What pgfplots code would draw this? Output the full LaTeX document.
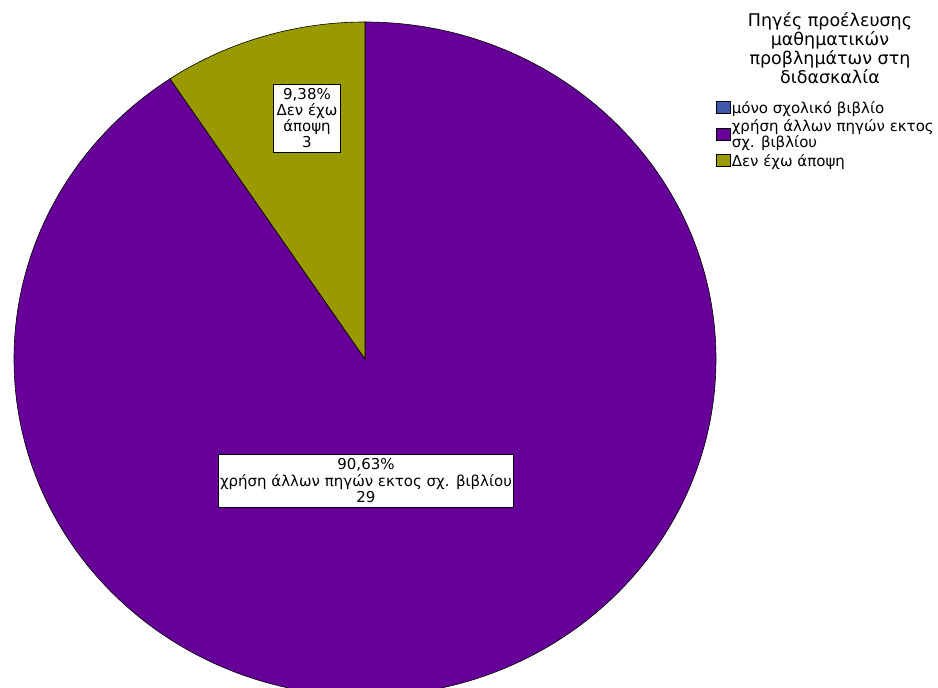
\documentclass[border=0pt]{standalone}
\usepackage{pgfplots}
\pgfplotsset{compat=1.18}
\usepackage{pgfplotstable}
\usepackage{fontspec}
\setmainfont{DejaVu Sans}
\definecolor{cblue}{RGB}{62,88,172}
\definecolor{cpurple}{RGB}{102,0,153}
\definecolor{colive}{RGB}{153,153,0}
\pgfplotstableread{
cat value
0 0
1 29
2 3
}\piedata
\begin{document}
\begin{tikzpicture}
\path[use as bounding box] (0,0) rectangle (938pt,688pt);
\clip (0,0) rectangle (938pt,688pt);
\pgfplotstablegetelem{0}{value}\of\piedata \let\va\pgfplotsretval
\pgfplotstablegetelem{1}{value}\of\piedata \let\vb\pgfplotsretval
\pgfplotstablegetelem{2}{value}\of\piedata \let\vc\pgfplotsretval
\pgfmathsetmacro{\tot}{\va+\vb+\vc}
\pgfmathsetmacro{\aA}{90}
\pgfmathsetmacro{\aB}{\aA-360*\va/\tot}
\pgfmathsetmacro{\aC}{\aB-360*\vb/\tot}
\pgfmathsetmacro{\aD}{\aC-360*\vc/\tot}
\begin{axis}[
  at={(0,0)}, anchor=south west,
  scale only axis, width=938pt, height=688pt,
  xmin=0, xmax=938, ymin=0, ymax=688,
  hide axis, clip=true,
  legend style={at={(axis cs:716,588)}, anchor=north west, draw=none, fill=none,
    font=\fontsize{15}{13.5}\selectfont, inner sep=0pt, row sep=3pt,
    nodes={inner sep=1pt}},
  legend cell align=left,
  legend image code/.code={\draw[#1, draw=black, line width=0.6pt] (0pt,-5.5pt) rectangle (14pt,6.5pt);},
]
\addlegendimage{fill=cblue}
\addlegendentry{μόνο σχολικό βιβλίο}
\addlegendimage{fill=cpurple}
\addlegendentry[align=left]{χρήση άλλων πηγών εκτος\\σχ. βιβλίου}
\addlegendimage{fill=colive}
\addlegendentry{Δεν έχω άποψη}
\fill[cpurple, draw=black, line width=0.6pt] (axis cs:365,329) -- ++(\aB:351pt and 337pt) arc[start angle=\aB, end angle=\aC, x radius=351pt, y radius=337pt] -- cycle;
\fill[colive, draw=black, line width=0.6pt] (axis cs:365,329) -- ++(\aC:351pt and 337pt) arc[start angle=\aC, end angle=\aD, x radius=351pt, y radius=337pt] -- cycle;
\node[draw=black, line width=0.8pt, fill=white, align=center, inner xsep=3pt, inner ysep=4.5pt, font=\fontsize{15}{16}\selectfont]
  at (axis cs:307,569.5) {9,38\%\\Δεν έχω\\άποψη\\3};
\node[draw=black, line width=0.8pt, fill=white, align=center, inner xsep=1.5pt, inner ysep=4.5pt, font=\fontsize{15}{16.5}\selectfont]
  at (axis cs:366,207) {90,63\%\\χρήση άλλων πηγών εκτος σχ. βιβλίου\\29};
\begin{scope}[every node/.style={anchor=base, inner sep=0pt, font=\fontsize{17.5}{19}\selectfont}]
\node at (axis cs:830,661) {Πηγές προέλευσης};
\node at (axis cs:830,642) {μαθηματικών};
\node at (axis cs:830,623) {προβλημάτων στη};
\node at (axis cs:830,604) {διδασκαλία};
\end{scope}
\end{axis}
\end{tikzpicture}
\end{document}
